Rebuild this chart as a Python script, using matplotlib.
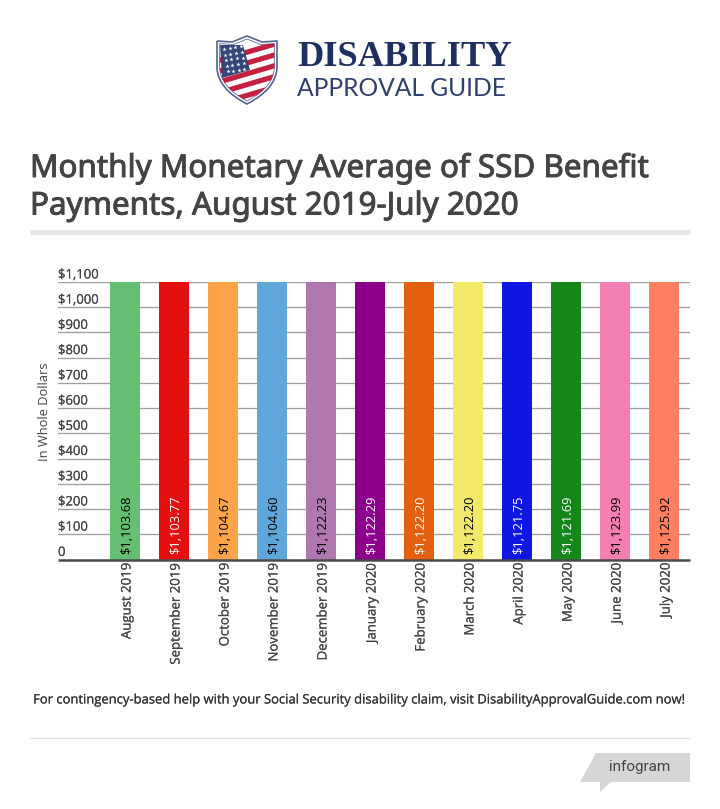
import matplotlib

matplotlib.use("Agg")
import matplotlib.pyplot as plt
import matplotlib.patheffects as pe
from matplotlib.patches import PathPatch, Polygon
from matplotlib.path import Path
from matplotlib.transforms import ScaledTranslation
import numpy as np

months = ["August 2019", "September 2019", "October 2019", "November 2019", "December 2019",
          "January 2020", "February 2020", "March 2020", "April 2020", "May 2020", "June 2020", "July 2020"]
payments = [1103.68, 1103.77, 1104.67, 1104.60, 1122.23, 1122.29,
            1122.20, 1122.20, 1121.75, 1121.69, 1123.99, 1125.92]
bar_colors = ["#65BE71", "#E3100F", "#FBA44A", "#5FA6DB", "#B177B1", "#8D008B",
              "#E45F10", "#F3E96B", "#0F17E4", "#14861A", "#F47FB2", "#FF7F60"]
label_colors = ["black", "white", "black", "black", "black", "white",
                "white", "black", "white", "white", "black", "black"]
y_ticks = list(range(0, 1101, 100))
y_labels = ["0"] + [f"${v:,}" for v in y_ticks[1:]]

W, H = 720, 809
GREY = "#444444"
NAVY = "#1F2F5F"
plt.rcParams["font.family"] = ["Open Sans", "DejaVu Sans"]

fig = plt.figure(figsize=(W / 100, H / 100), dpi=100, facecolor="white")


def fx(px):
    return px / W


def fy(py):
    return 1 - py / H


def bolder(width, color):
    return [pe.withStroke(linewidth=width, foreground=color)]


# plot area: gridlines run from under the tick labels to the right edge
ax = fig.add_axes([fx(58), fy(559.5), (690 - 58) / W, (559.5 - 282) / H])
x = np.arange(len(months))
ax.set_xlim((58 - 125) / 49, (690 - 125) / 49)
ax.set_ylim(0, 1100)
ax.set_axisbelow(True)
ax.yaxis.grid(True, color="#A0A0A0", linewidth=0.95)
ax.bar(x, payments, width=30 / 49, color=bar_colors, clip_on=True)

for s in ["top", "right", "left"]:
    ax.spines[s].set_visible(False)
ax.spines["bottom"].set_color("#4A4A4A")
ax.spines["bottom"].set_linewidth(1.8)
ax.spines["bottom"].set_capstyle("butt")

ax.set_yticks(y_ticks)
ax.set_yticklabels([])
ax.tick_params(axis="y", length=0)
for v, lab in zip(y_ticks, y_labels):
    ax.annotate(lab, (0, v), xycoords=("axes fraction", "data"), xytext=(0, 2.6),
                textcoords="offset points", fontsize=9.4, color=GREY, ha="left", va="baseline",
                path_effects=bolder(0.1, GREY))

ax.set_xticks(x)
ax.set_xticklabels(months, rotation=90, fontsize=9.5, color=GREY, ha="center", va="top")
ax.tick_params(axis="x", length=0, pad=2)
shift = ScaledTranslation(2 / 100, 0, fig.dpi_scale_trans)
for lbl in ax.get_xticklabels():
    lbl.set_transform(lbl.get_transform() + shift)
    lbl.set_path_effects(bolder(0.1, GREY))

for i, (val, c) in enumerate(zip(payments, label_colors)):
    ax.annotate(f"${val:,.2f}", (i, 0), xytext=(1.4, 3.6), textcoords="offset points",
                rotation=90, fontsize=9.3, color=c, ha="center", va="bottom")

fig.text(fx(44), fy(412), "In Whole Dollars", rotation=90, fontsize=9.3, color=GREY, ha="center", va="center")

# heading
for py, line in [(165, "Monthly Monetary Average of SSD Benefit"), (203, "Payments, August 2019-July 2020")]:
    fig.text(fx(30), fy(py), line, fontsize=22.6, color=GREY, ha="left", va="center_baseline",
             family=["Noto Sans", "DejaVu Sans"], path_effects=bolder(0.7, GREY))
fig.add_artist(plt.Line2D([fx(30), fx(690)], [fy(231.5), fy(231.5)], color="#E6E6E6", linewidth=3.6,
                          solid_capstyle="butt"))

# footer
fig.text(fx(360), fy(700), "For contingency-based help with your Social Security disability claim, visit "
         "DisabilityApprovalGuide.com now!", fontsize=9.37, color="#333333", ha="center", va="center",
         path_effects=bolder(0.1, "#333333"))
fig.add_artist(plt.Line2D([fx(30), fx(690)], [fy(737.5), fy(737.5)], color="#E2E2E2", linewidth=1,
                          solid_capstyle="butt"))

# infogram badge
badge = [(596, 753), (690, 753), (690, 782), (611, 782), (600, 792), (600, 782), (580, 782)]
fig.add_artist(Polygon([(fx(a), fy(b)) for a, b in badge], closed=True, transform=fig.transFigure,
                       facecolor="#D6D6D6", edgecolor="none"))
fig.text(fx(640), fy(767), "infogram", fontsize=11, color="#444444", ha="center", va="center",
         family=["Roboto", "DejaVu Sans"])


# logo shield
def shield_path(scale=1.0):
    cx, cy = 247, 70
    pts = [(-30, -29), (-15, -28), (0, -34), (15, -28), (30, -29), (30, -2), (29, 19), (0, 34), (-29, 19), (-30, -2),
           (-30, -29)]
    codes = [Path.MOVETO, Path.LINETO, Path.LINETO, Path.LINETO, Path.LINETO, Path.LINETO,
             Path.CURVE3, Path.CURVE3, Path.CURVE3, Path.CURVE3, Path.LINETO]
    return Path([(fx(cx + a * scale), fy(cy + b * scale)) for a, b in pts], codes)


fig.add_artist(PathPatch(shield_path(1.0), transform=fig.transFigure, facecolor="white", edgecolor="#56658E",
                         linewidth=1.2))
inner = PathPatch(shield_path(0.91), transform=fig.transFigure, facecolor="white", edgecolor="#44547F", linewidth=0.5)
fig.add_artist(inner)
for k in range(6):
    y0 = 41 + k * 10.8
    stripe = Polygon([(fx(a), fy(b)) for a, b in [(218, y0 + 17), (276, y0), (276, y0 + 5.4), (218, y0 + 22.4)]],
                     closed=True, transform=fig.transFigure, facecolor="#C4203F", edgecolor="none")
    fig.add_artist(stripe)
    stripe.set_clip_path(inner)
canton = Polygon([(fx(a), fy(b)) for a, b in [(220, 45), (243, 45), (250, 70), (222, 78)]], closed=True,
                 transform=fig.transFigure, facecolor="#34457A", edgecolor="none")
fig.add_artist(canton)
canton.set_clip_path(inner)
for row in range(5):
    for col in range(4):
        sx, sy = 224 + col * 5.6 + row * 0.9, 49 + row * 5.6 - col * 0.9
        fig.add_artist(plt.Line2D([fx(sx)], [fy(sy)], marker="*", markersize=3.2, color="white",
                                  markeredgewidth=0, linestyle="none"))

fig.text(fx(297), fy(57), "DISABILITY", fontsize=26.2, fontweight="bold", color=NAVY, ha="left", va="center",
         family=["Liberation Serif", "DejaVu Serif"])
fig.text(fx(297), fy(88), "APPROVAL GUIDE", fontsize=17.7, color="#2F3F6E", ha="left", va="center",
         family=["Lato", "DejaVu Sans"])

fig.savefig("out.png", dpi=100)
plt.close(fig)
